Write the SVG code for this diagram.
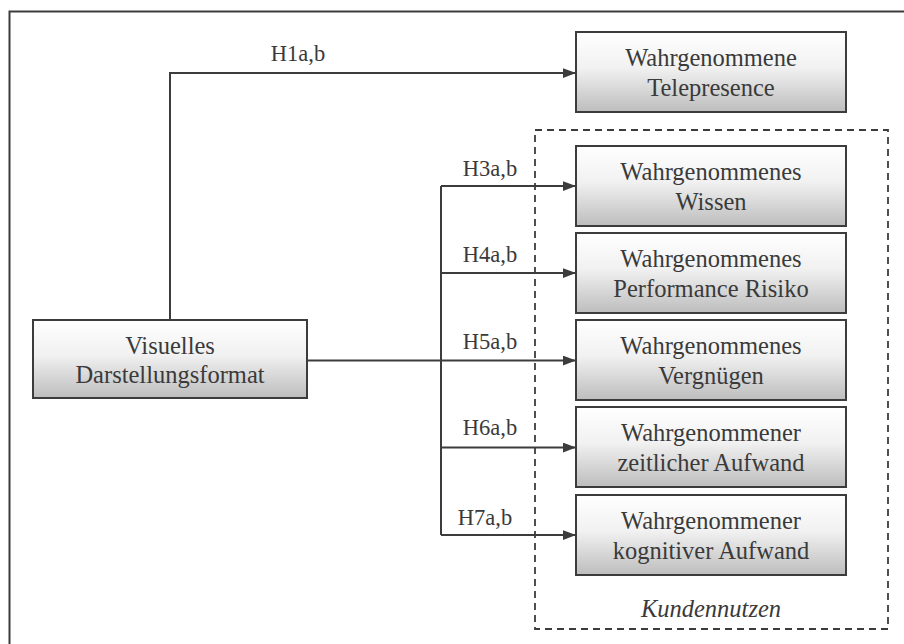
<svg xmlns="http://www.w3.org/2000/svg" width="904" height="644" viewBox="0 0 904 644">
  <style>
    .box { fill: url(#boxFill); stroke: #3c3c3c; stroke-width: 2; }
    .txt { font-family: "Liberation Serif", "Times New Roman", serif; font-size: 24.5px; fill: #3a3a3a; text-anchor: middle; }
    .lbl { font-family: "Liberation Serif", "Times New Roman", serif; font-size: 22.5px; fill: #3a3a3a; text-anchor: middle; }
    .conn { fill: none; stroke: #3c3c3c; stroke-width: 2; }
    .arr { fill: none; stroke: #3c3c3c; stroke-width: 2; marker-end: url(#head); }
  </style>
  <defs>
    <linearGradient id="boxFill" x1="0" y1="0" x2="0" y2="1">
      <stop offset="0" stop-color="#ffffff"/>
      <stop offset="0.45" stop-color="#f1f1f1"/>
      <stop offset="1" stop-color="#bdbdbd"/>
    </linearGradient>
    <marker id="head" viewBox="0 0 12 9" refX="12" refY="4.5" markerWidth="13" markerHeight="10" markerUnits="userSpaceOnUse" orient="auto">
      <path d="M0,0 L12,4.5 L0,9 Z" fill="#3c3c3c"/>
    </marker>
  </defs>

  <rect width="904" height="644" fill="#ffffff"/>
  <!-- outer frame -->
  <rect x="9.5" y="11.5" width="900" height="640" fill="none" stroke="#3c3c3c" stroke-width="2"/>

  <!-- Kundennutzen group -->
  <g id="kundennutzen">
    <rect x="535" y="130" width="353" height="499" fill="none" stroke="#3c3c3c" stroke-width="1.8" stroke-dasharray="7 5"/>
    <text class="txt" x="711" y="617" font-style="italic">Kundennutzen</text>
  </g>

  <!-- connectors -->
  <g id="connectors">
    <path class="arr" d="M170,320 V73 H576"/>
    <path class="conn" d="M307,360.5 H441"/>
    <path class="conn" d="M441,186 V535"/>
    <path class="arr" d="M441,186 H576"/>
    <path class="arr" d="M441,273 H576"/>
    <path class="arr" d="M441,360.5 H576"/>
    <path class="arr" d="M441,447.5 H576"/>
    <path class="arr" d="M441,535 H576"/>
    <text class="lbl" x="298" y="61">H1a,b</text>
    <text class="lbl" x="490" y="176">H3a,b</text>
    <text class="lbl" x="490" y="262">H4a,b</text>
    <text class="lbl" x="490" y="349">H5a,b</text>
    <text class="lbl" x="490" y="435">H6a,b</text>
    <text class="lbl" x="485" y="525">H7a,b</text>
  </g>

  <g id="visuelles-darstellungsformat">
    <rect class="box" x="33" y="320" width="274" height="78"/>
    <text class="txt" x="170" y="354">Visuelles</text>
    <text class="txt" x="170" y="383">Darstellungsformat</text>
  </g>

  <g id="telepresence">
    <rect class="box" x="576" y="32" width="270" height="80"/>
    <text class="txt" x="711" y="66">Wahrgenommene</text>
    <text class="txt" x="711" y="96">Telepresence</text>
  </g>

  <g id="wissen">
    <rect class="box" x="576" y="146" width="270" height="80"/>
    <text class="txt" x="711" y="180">Wahrgenommenes</text>
    <text class="txt" x="711" y="210">Wissen</text>
  </g>

  <g id="performance-risiko">
    <rect class="box" x="576" y="233" width="270" height="80"/>
    <text class="txt" x="711" y="267">Wahrgenommenes</text>
    <text class="txt" x="711" y="297">Performance  Risiko</text>
  </g>

  <g id="vergnuegen">
    <rect class="box" x="576" y="320" width="270" height="80"/>
    <text class="txt" x="711" y="354">Wahrgenommenes</text>
    <text class="txt" x="711" y="384">Vergnügen</text>
  </g>

  <g id="zeitlicher-aufwand">
    <rect class="box" x="576" y="407" width="270" height="80"/>
    <text class="txt" x="711" y="441">Wahrgenommener</text>
    <text class="txt" x="711" y="471">zeitlicher Aufwand</text>
  </g>

  <g id="kognitiver-aufwand">
    <rect class="box" x="576" y="495" width="270" height="80"/>
    <text class="txt" x="711" y="529">Wahrgenommener</text>
    <text class="txt" x="711" y="559">kognitiver Aufwand</text>
  </g>
</svg>
